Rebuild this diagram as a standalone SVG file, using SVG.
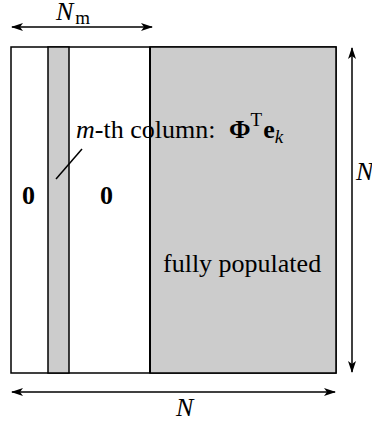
<svg xmlns="http://www.w3.org/2000/svg" width="372" height="421" viewBox="0 0 372 421">
<style>
.t{font-family:"Liberation Serif","Times New Roman",serif;font-size:26px;fill:#000}
.i{font-style:italic}
.b{font-weight:bold}
.ln{stroke:#000;stroke-width:1.5;fill:none}
.g{fill:#cccccc;stroke:#000;stroke-width:1.5}
</style>
<defs>
<marker id="ah" viewBox="0 0 12 8" refX="11" refY="4" markerWidth="12" markerHeight="8" markerUnits="userSpaceOnUse" orient="auto-start-reverse">
<path d="M0,0 L12,4 L0,8 L3,4 Z" fill="#000"/>
</marker>
</defs>
<rect width="372" height="421" fill="#fff"/>
<g id="matrix">
<rect x="11" y="47" width="325" height="326" fill="#fff" stroke="#000" stroke-width="1.5"/>
<rect x="150" y="47" width="186" height="326" class="g"/>
<rect x="48" y="47" width="21" height="326" class="g"/>
<line x1="150" y1="47" x2="150" y2="373" stroke="#000" stroke-width="2"/>
</g>
<g id="labels">
<text x="22" y="204" class="t b">0</text>
<text x="100" y="204" class="t b">0</text>
<text x="163" y="272" class="t">fully populated</text>
<text x="76" y="138" class="t" font-size="27"><tspan class="i">m</tspan>-th column: <tspan x="229" class="b">Φ</tspan><tspan font-size="19" dy="-12">T</tspan><tspan class="b" dy="12" dx="1">e</tspan><tspan class="i" font-size="19" dy="5">k</tspan></text>
</g>
<g id="connectors">
<line x1="56" y1="179" x2="82" y2="149" class="ln" stroke-width="1.2"/>
<line x1="12" y1="27" x2="152" y2="27" class="ln" marker-start="url(#ah)" marker-end="url(#ah)"/>
<line x1="12" y1="392" x2="335" y2="392" class="ln" marker-start="url(#ah)" marker-end="url(#ah)"/>
<line x1="352" y1="48" x2="352" y2="372" class="ln" marker-start="url(#ah)" marker-end="url(#ah)"/>
</g>
<g id="dims">
<text x="56" y="20" class="t i" font-size="27">N<tspan font-size="19" font-style="normal" dy="4" dx="2">m</tspan></text>
<text x="176" y="416" class="t i" font-size="27">N</text>
<text x="356" y="180" class="t i" font-size="27">N</text>
</g>
</svg>
